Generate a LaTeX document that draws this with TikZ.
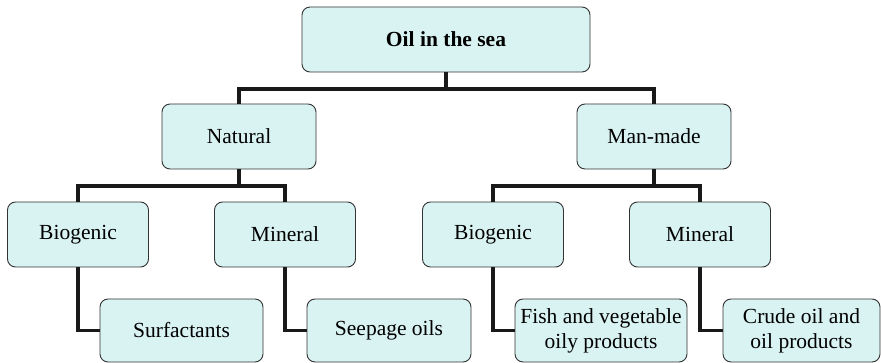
\documentclass[tikz,border=0pt]{standalone}
\usepackage{fontspec}
\setmainfont{Liberation Serif}
\newfontfamily\boxfont{Liberation Serif}
\begin{document}
\begin{tikzpicture}[x=1pt,y=-1pt,
  box/.style={draw=black!80, line width=0.9pt, fill=boxfill, rounded corners=8pt,
    inner sep=0pt, align=center, font=\boxfont\fontsize{21.5}{25}\selectfont},
  link/.style={line width=3.6pt, black!90}]
\definecolor{boxfill}{RGB}{217,242,242}
\useasboundingbox (0,0) rectangle (881,363);
% connectors
\coordinate (j1) at (446,89);
\coordinate (j2) at (239,186);
\coordinate (j3) at (654,186);
% top
\node[box, minimum width=288pt, minimum height=65pt, font=\boxfont\fontsize{21.5}{25}\selectfont\bfseries] (top) at (446,39.5) {Oil in the sea};
% level 2
\node[box, minimum width=154pt, minimum height=65pt] (nat) at (239,136.5) {Natural};
\node[box, minimum width=154pt, minimum height=65pt] (man) at (654,136.5) {Man-made};
% level 3
\node[box, minimum width=141pt, minimum height=65pt] (bioL) at (78,234.5) {Biogenic};
\node[box, minimum width=141pt, minimum height=65pt] (minL) at (285,234.5) {Mineral};
\node[box, minimum width=141pt, minimum height=65pt] (bioR) at (493,234.5) {Biogenic};
\node[box, minimum width=141pt, minimum height=65pt] (minR) at (700,234.5) {Mineral};
% level 4
\node[box, minimum width=163pt, minimum height=63pt] (surf) at (181.5,330.5) {Surfactants};
\node[box, minimum width=164pt, minimum height=63pt] (seep) at (389,330.5) {Seepage oils};
\node[box, minimum width=172pt, minimum height=63pt] (fish) at (601,330.5) {Fish and vegetable\\oily products};
\node[box, minimum width=157pt, minimum height=63pt] (crude) at (801.5,330.5) {Crude oil and\\oil products};
\draw[link] (top.south) -- (j1);
\draw[link] (j1) -| (nat.north);
\draw[link] (j1) -| (man.north);
\draw[link] (nat.south) -- (j2);
\draw[link] (j2) -| (bioL.north);
\draw[link] (j2) -| (minL.north);
\draw[link] (man.south) -- (j3);
\draw[link] (j3) -| (bioR.north);
\draw[link] (j3) -| (minR.north);
\draw[link] (bioL.south) |- (surf.west);
\draw[link] (minL.south) |- (seep.west);
\draw[link] (bioR.south) |- (fish.west);
\draw[link] (minR.south) |- (crude.west);
\end{tikzpicture}
\end{document}
